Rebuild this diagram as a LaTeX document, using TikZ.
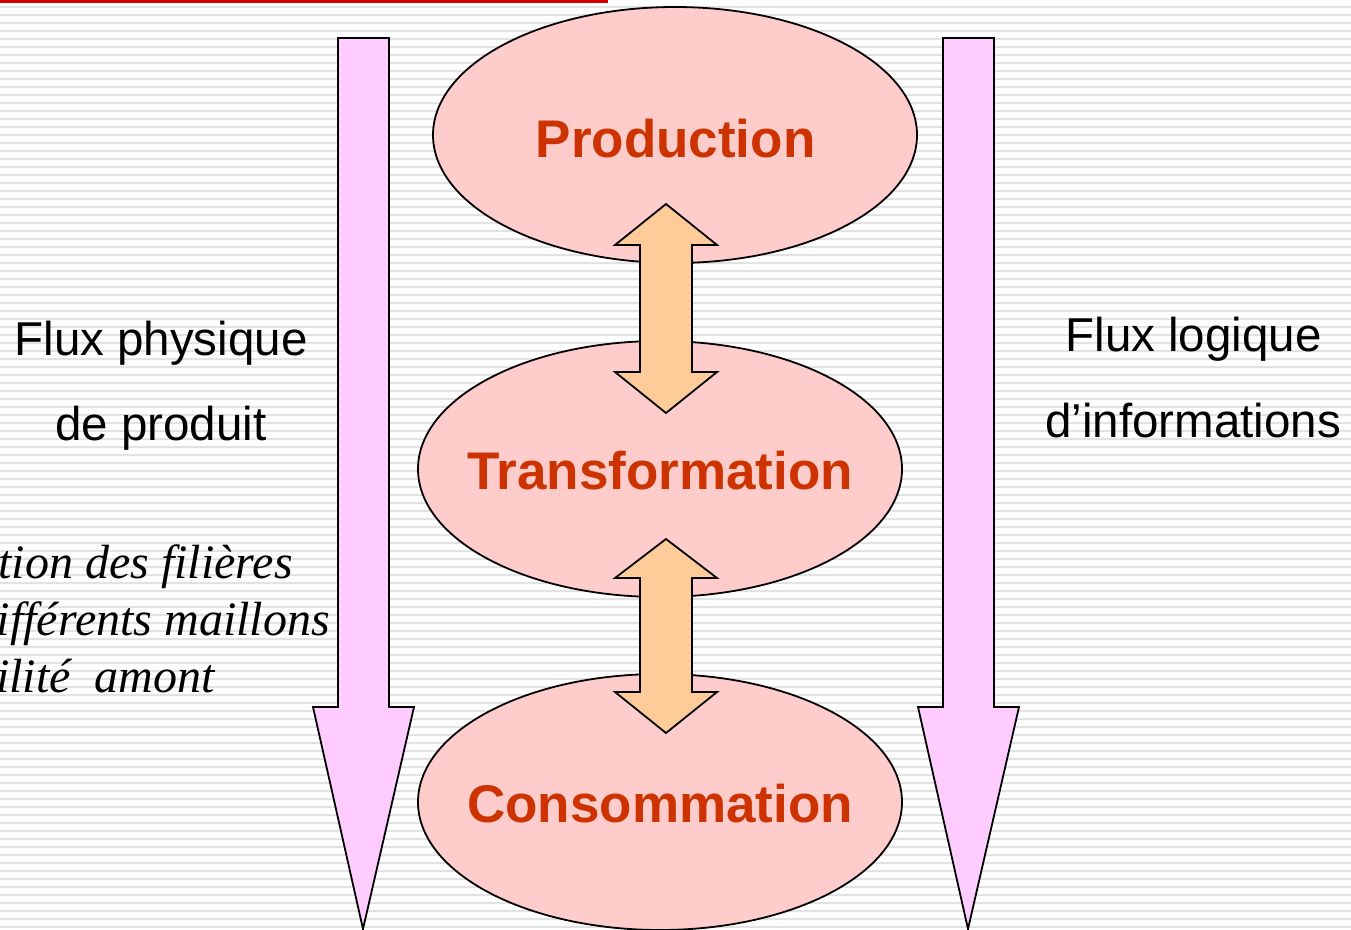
\documentclass[tikz,border=0pt]{standalone}
\usepackage{fontspec}
\setmainfont{Liberation Sans}
\newfontfamily\serifit{Liberation Serif}
\usetikzlibrary{shapes.geometric}
\definecolor{stripecol}{HTML}{E2E2E2}
\definecolor{redline}{HTML}{D40000}
\definecolor{flowpink}{HTML}{FFCCFF}
\definecolor{ellpink}{HTML}{FFCCCC}
\definecolor{dblorange}{HTML}{FFCC99}
\definecolor{titlered}{HTML}{CC3300}
\tikzset{
  stripe/.style={stripecol, line width=2pt},
  flowarrow/.style={draw=black, fill=flowpink, line width=1.8pt, line join=miter},
  stage/.style={ellipse, draw=black, fill=ellpink, line width=1.8pt, minimum width=484pt, minimum height=256pt, inner sep=0pt},
  stagetext/.style={text=titlered, font=\fontsize{53}{60}\selectfont\bfseries, anchor=base, inner sep=0pt},
  dblarrow/.style={draw=black, fill=dblorange, line width=1.8pt, line join=miter},
  label/.style={font=\fontsize{47.5}{55}\selectfont, anchor=base, inner sep=0pt},
  itlabel/.style={font=\serifit\itshape\fontsize{48}{54}\selectfont, anchor=base east, inner sep=0pt},
}
\begin{document}
\begin{tikzpicture}[x=1pt,y=-1pt]
\useasboundingbox (0,0) rectangle (1351,929);
\clip (0,0) rectangle (1351,929);
\fill[white] (0,0) rectangle (1351,929);
\foreach \y in {7,15,...,927} \draw[stripe] (0,\y) -- (1351,\y);
\fill[redline] (0,0) rectangle (608,3);
% side flow arrows
\draw[flowarrow] (338,38) -- (389,38) -- (389,707) -- (414,707) -- (363,929) -- (313,707) -- (338,707) -- cycle;
\draw[flowarrow] (943,38) -- (994,38) -- (994,707) -- (1019,707) -- (968,929) -- (918,707) -- (943,707) -- cycle;
% stages
\node[stage] (prod) at (675,135) {};
\node[stage] (trans) at (660,469) {};
\node[stage] (cons) at (660,802) {};
\node[stagetext] (prodt) at (675.5,157) {Production};
\node[stagetext] (transt) at (660,489) {Transformation};
\node[stagetext] (const) at (660,822) {Consommation};
% double arrows
\draw[dblarrow] (666,204) -- (717,245) -- (692,245) -- (692,372) -- (717,372) -- (666,413) -- (615,372) -- (640,372) -- (640,245) -- (615,245) -- cycle;
\draw[dblarrow] (666,539) -- (717,578) -- (692,578) -- (692,692) -- (717,692) -- (666,733) -- (615,692) -- (640,692) -- (640,578) -- (615,578) -- cycle;
% labels
\node[label] (lp1) at (161,355) {Flux physique};
\node[label] (lp2) at (161,440) {de produit};
\node[label] (lr1) at (1193.5,351) {Flux logique};
\node[label] (lr2) at (1193,437) {d’informations};
\node[itlabel] (it1) at (293,578) {tion des filières};
\node[itlabel] (it2) at (330,635) {ifférents maillons};
\node[itlabel] (it3) at (215,692) {ilité\ \ amont};
\end{tikzpicture}
\end{document}
